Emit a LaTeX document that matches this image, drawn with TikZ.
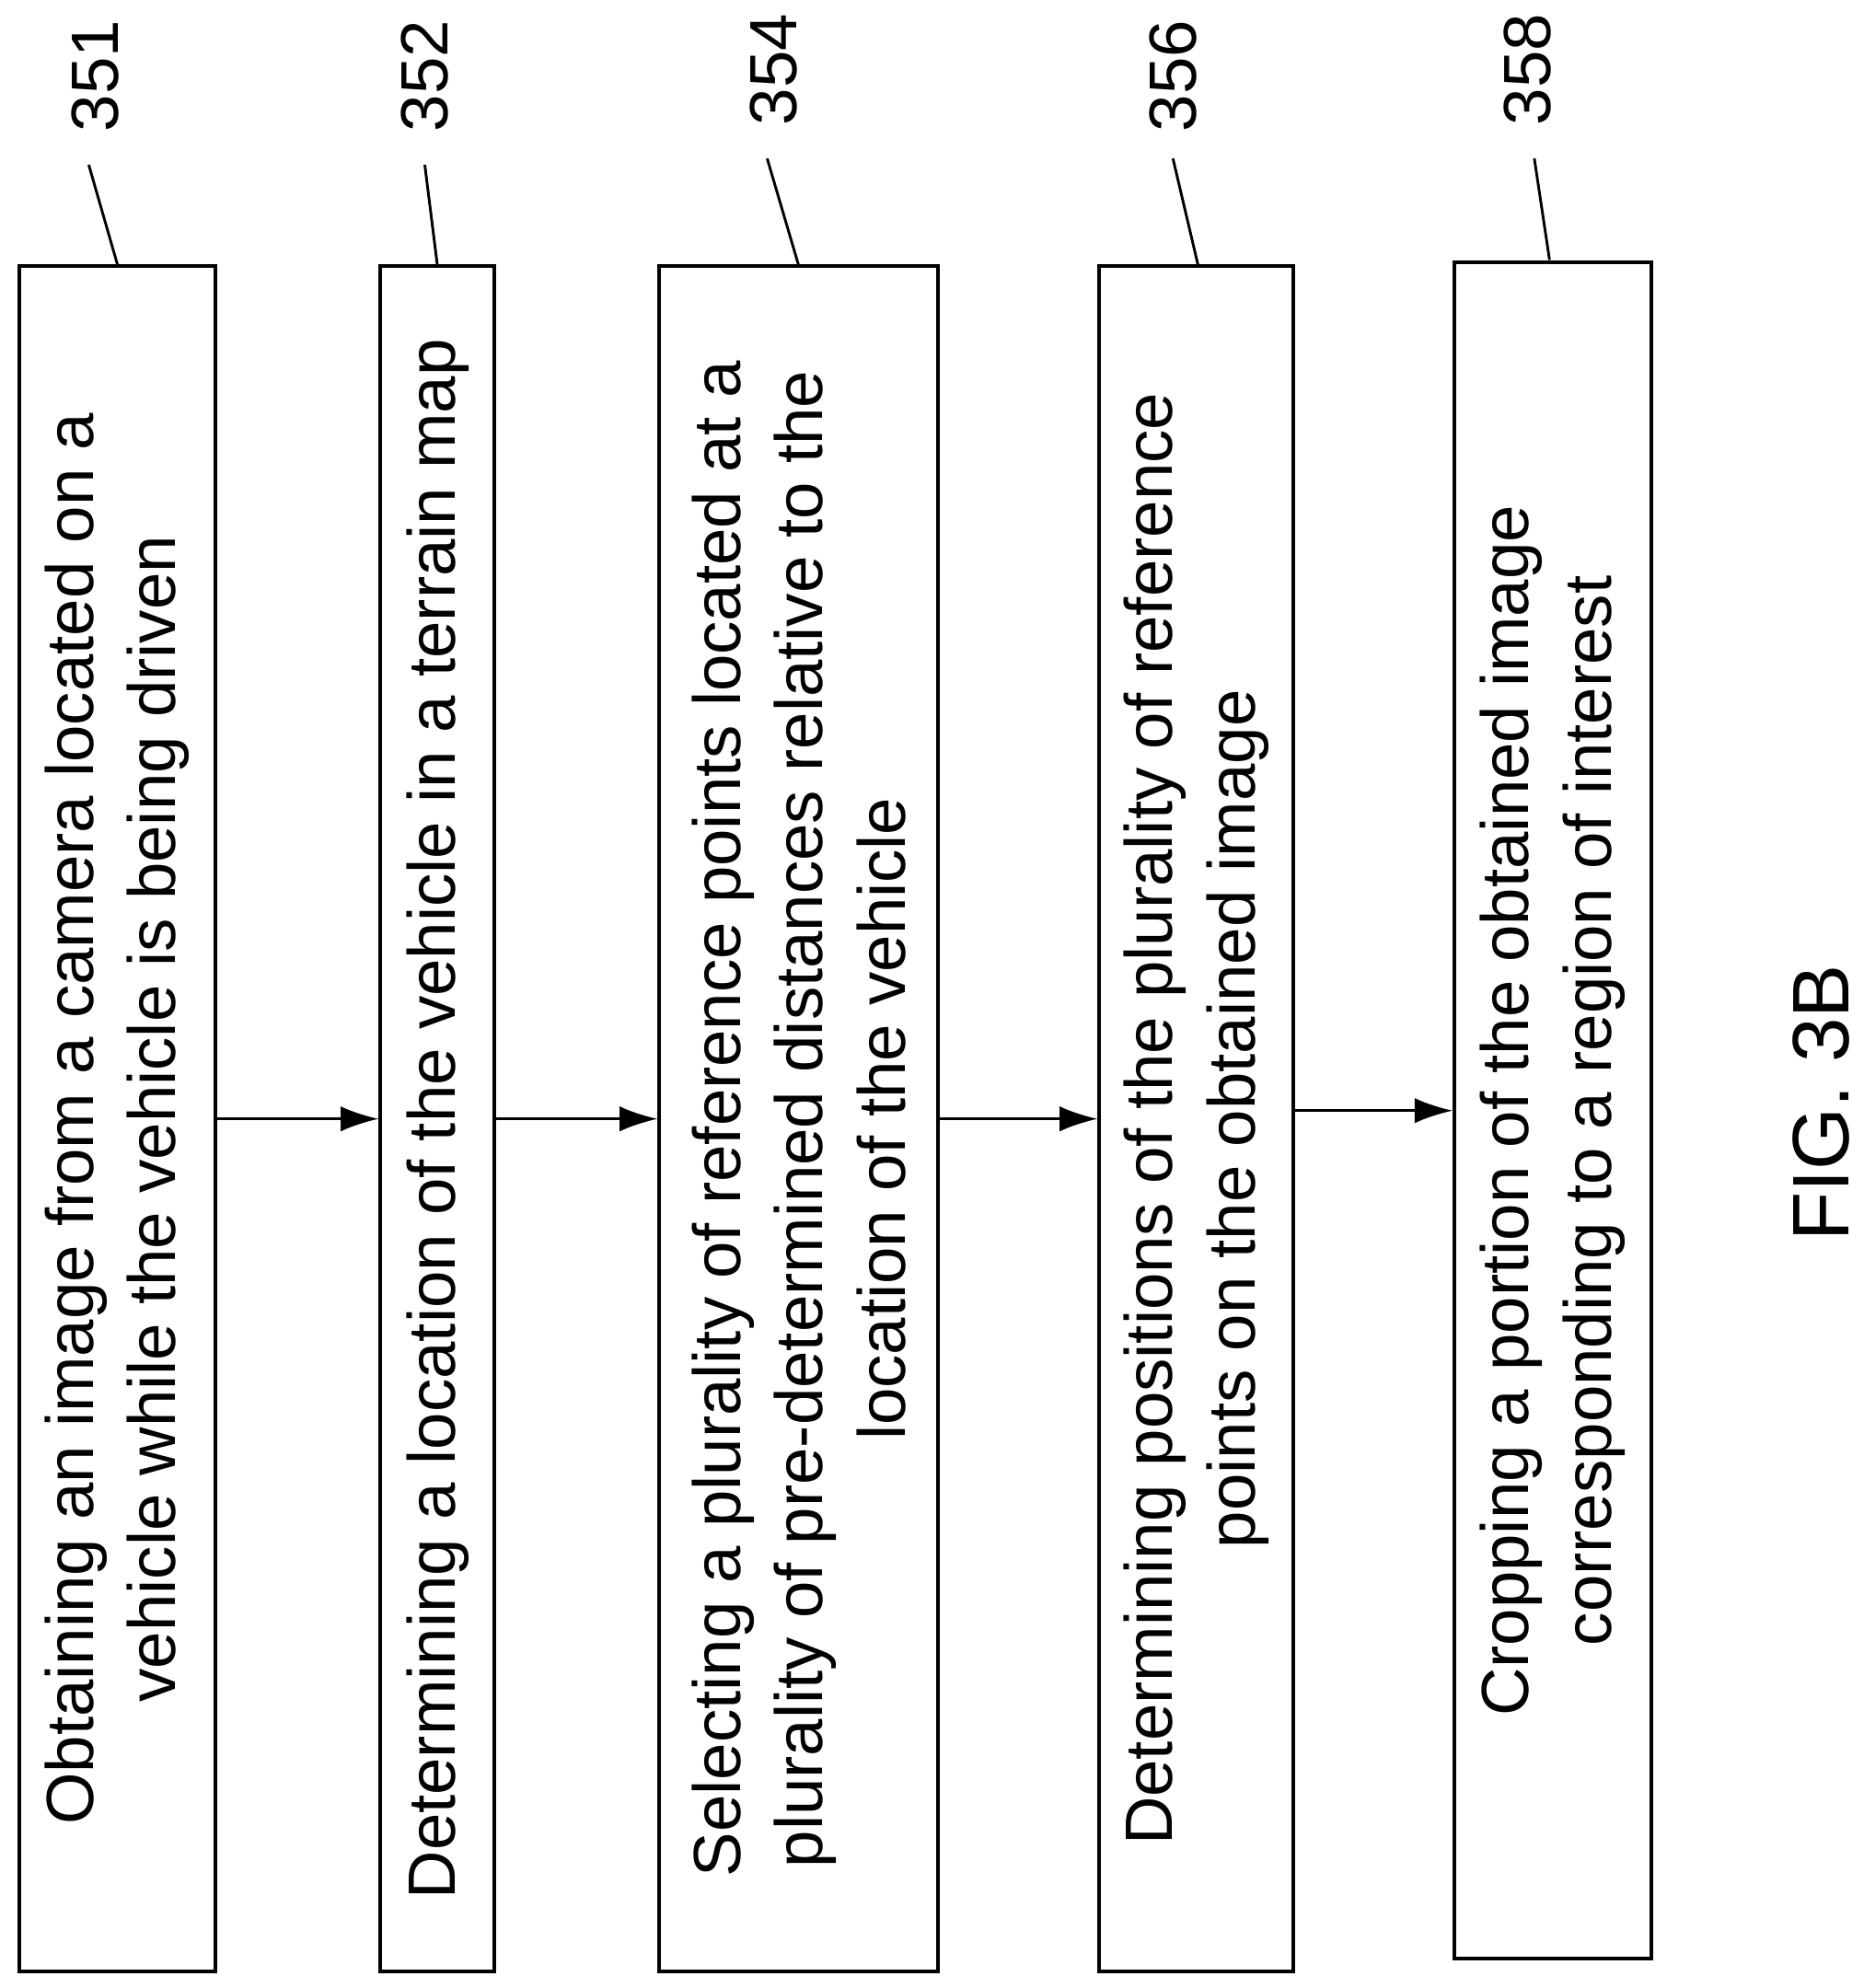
\documentclass[tikz,border=0pt]{standalone}
\usepackage{fontspec}
\setmainfont{Liberation Sans}
\usetikzlibrary{arrows.meta}
\tikzset{
  stepbox/.style={draw,line width=0.8pt,rotate=90,align=center,inner sep=0pt,
    minimum width=13.45cm,font=\fontsize{15}{18.5}\selectfont},
  num/.style={rotate=90,font=\fontsize{15}{18}\selectfont},
  flow/.style={->,>={Latex[length=3mm,width=2mm]},line width=0.6pt},
  lead/.style={line width=0.6pt}
}
\begin{document}
\begin{tikzpicture}[x=0.1mm,y=0.1mm]
  \useasboundingbox (0,0) rectangle (1470,1568);
  % steps
  \node (b351) [stepbox,minimum height=1.55cm] at (92.5,685.5)
    {Obtaining an image from a camera located on a\\vehicle while the vehicle is being driven};
  \node (b352) [stepbox,minimum height=0.9cm] at (345,685.5)
    {Determining a location of the vehicle in a terrain map};
  \node (b354) [stepbox,minimum height=2.2cm] at (630,685.5)
    {Selecting a plurality of reference points located at a\\plurality of pre-determined distances relative to the\\location of the vehicle};
  \node (b356) [stepbox,minimum height=1.53cm] at (943.5,685.5)
    {Determining positions of the plurality of reference\\points on the obtained image};
  \node (b358) [stepbox,minimum height=1.55cm,minimum width=13.38cm] at (1224.5,692)
    {Cropping a portion of the obtained image\\corresponding to a region of interest};
  \draw[flow] (b351) -- (b352);
  \draw[flow] (b352) -- (b354);
  \draw[flow] (b354) -- (b356);
  \draw[flow] (b356.south |- b358) -- (b358);
  % reference numerals
  \node (n351) [num] at (75,1508) {351};
  \node (n352) [num] at (335,1508) {352};
  \node (n354) [num] at (610,1513) {354};
  \node (n356) [num] at (925,1508) {356};
  \node (n358) [num] at (1205,1513) {358};
  \coordinate (t351) at (93,1358);
  \coordinate (t352) at (345,1358);
  \coordinate (t354) at (630,1358);
  \coordinate (t356) at (945,1358);
  \coordinate (t358) at (1222,1363);
  \draw[lead] (70,1438) -- (t351);
  \draw[lead] (335,1438) -- (t352);
  \draw[lead] (605,1443) -- (t354);
  \draw[lead] (925,1443) -- (t356);
  \draw[lead] (1210,1443) -- (t358);
  \node (fig) [rotate=90,font=\fontsize{18}{22}\selectfont] at (1436,698) {FIG. 3B};
\end{tikzpicture}
\end{document}
